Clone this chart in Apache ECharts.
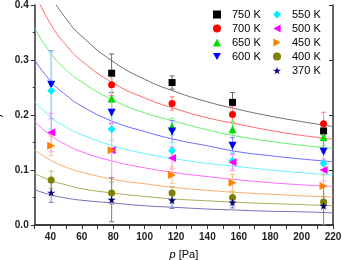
<!DOCTYPE html>
<html><head><meta charset="utf-8">
<script src="https://cdn.jsdelivr.net/npm/echarts@6/dist/echarts.min.js"></script>
<style>html,body{margin:0;padding:0;background:#fff}#c{width:342px;height:260px}</style>
</head><body><div id="c"></div>
<script>
const pressures = [40.5, 79, 117.5, 156, 214];
const temps = ['750 K','700 K','650 K','600 K','550 K','500 K','450 K','400 K','370 K'];
const gamma750 = [null, 0.276, 0.259, 0.223, 0.171];
const gamma700 = [null, 0.255, 0.221, 0.201, 0.184];
const gamma650 = [null, 0.230, 0.179, 0.174, 0.160];
const gamma600 = [0.255, 0.204, 0.170, 0.144, 0.133];
const gamma550 = [0.244, 0.174, 0.135, 0.117, 0.112];
const gamma500 = [0.168, 0.136, 0.122, 0.114, 0.100];
const gamma450 = [0.144, 0.136, 0.091, 0.077, 0.071];
const gamma400 = [0.082, 0.058, 0.058, 0.050, 0.042];
const gamma370 = [0.059, 0.046, 0.045, 0.041, 0.035];
const err750 = [null, 0.035, 0.012, 0.018, 0.015];
const err700 = [null, 0.020, 0.012, 0.015, 0.021];
const err650 = [null, 0.020, 0.015, 0.015, 0.015];
const err600 = [0.062, 0.020, 0.020, 0.015, 0.020];
const err550 = [0.070, 0.020, 0.015, 0.015, 0.020];
const err500 = [0.035, 0.050, 0.020, 0.015, 0.020];
const err450 = [0.018, 0.130, 0.015, 0.015, 0.020];
const err400 = [0.016, 0.020, 0.012, 0.010, 0.010];
const err370 = [0.018, 0.040, 0.015, 0.010, 0.035];
const fitP = [30, 40, 50, 60, 80, 100, 120, 140, 160, 180, 200, 220];
const fit750 = [0.484, 0.420, 0.375, 0.343, 0.297, 0.265, 0.242, 0.224, 0.210, 0.198, 0.188, 0.179];
const fit700 = [0.422, 0.366, 0.327, 0.298, 0.258, 0.231, 0.211, 0.195, 0.183, 0.172, 0.163, 0.156];
const fit650 = [0.358, 0.313, 0.282, 0.260, 0.227, 0.204, 0.188, 0.173, 0.161, 0.152, 0.145, 0.139];
const fit600 = [0.300, 0.262, 0.236, 0.216, 0.188, 0.170, 0.155, 0.144, 0.133, 0.126, 0.120, 0.115];
const fit550 = [0.224, 0.197, 0.178, 0.164, 0.144, 0.130, 0.120, 0.112, 0.106, 0.100, 0.095, 0.091];
const fit500 = [0.188, 0.163, 0.146, 0.133, 0.116, 0.104, 0.095, 0.088, 0.082, 0.077, 0.073, 0.070];
const fit450 = [0.136, 0.118, 0.105, 0.096, 0.083, 0.075, 0.068, 0.063, 0.059, 0.056, 0.053, 0.051];
const fit400 = [0.094, 0.081, 0.073, 0.066, 0.058, 0.052, 0.047, 0.044, 0.041, 0.039, 0.037, 0.035];
const fit370 = [0.064, 0.055, 0.049, 0.045, 0.040, 0.035, 0.032, 0.029, 0.027, 0.025, 0.024, 0.022];
const xTicks = [40, 60, 80, 100, 120, 140, 160, 180, 200, 220];

const gammas = [gamma750,gamma700,gamma650,gamma600,gamma550,gamma500,gamma450,gamma400,gamma370];
const errs = [err750,err700,err650,err600,err550,err500,err450,err400,err370];
const fits = [fit750,fit700,fit650,fit600,fit550,fit500,fit450,fit400,fit370];
const colors = ['#000000','#ff0000','#00dd00','#0000ff','#00eeff','#ff00ff','#ff7f00','#808000','#000080'];
const lineColors = ['#707070','#ff6a6a','#66ee66','#6a6aff','#66f2ff','#ff6aff','#ffaa66','#aaaa55','#7070b8'];
const errColors = ['#666666','#ff8080','#88ee88','#8888ff','#88f4ff','#ff88ff','#ffc080','#bbbb77','#8080c0'];
const star = 'path://M50,0 L61,35 L98,35 L68,57 L79,91 L50,70 L21,91 L32,57 L2,35 L39,35 Z';
const triDown = 'path://M0,0 L10,0 L5,9 Z';
const triLeft = 'path://M9,0 L9,10 L0,5 Z';
const triRight = 'path://M0,0 L0,10 L9,5 Z';
const symbols = ['rect','circle','triangle',triDown,'diamond',triLeft,triRight,'circle',star];
const sizes = [7,7,8,8,8,8,8,7,8];

const series = [];
fits.forEach((f,i)=>{
  series.push({type:'line', data: fitP.map((p,k)=>[p,f[k]]), smooth:true, symbol:'none',
    lineStyle:{color:lineColors[i], width:1}, silent:true, z:1, clip:true});
});
gammas.forEach((g,i)=>{
  const d = [];
  pressures.forEach((p,k)=>{ if(g[k]!=null) d.push([p, Math.max(0,g[k]-errs[i][k]), g[k]+errs[i][k]]); });
  series.push({type:'custom', data:d, z:2, silent:true, clip:true,
    renderItem:(params, api)=>{
      const lo = api.coord([api.value(0), api.value(1)]);
      const hi = api.coord([api.value(0), api.value(2)]);
      const w = 2.5;
      const st = {stroke: errColors[i], lineWidth: 1};
      return {type:'group', children:[
        {type:'line', shape:{x1:lo[0],y1:lo[1],x2:hi[0],y2:hi[1]}, style:st},
        {type:'line', shape:{x1:lo[0]-w,y1:lo[1],x2:lo[0]+w,y2:lo[1]}, style:st},
        {type:'line', shape:{x1:hi[0]-w,y1:hi[1],x2:hi[0]+w,y2:hi[1]}, style:st}
      ]};
    }});
});
gammas.forEach((g,i)=>{
  const d = [];
  pressures.forEach((p,k)=>{ if(g[k]!=null) d.push([p, g[k]]); });
  series.push({type:'scatter', name: temps[i], data:d, symbol:symbols[i],
    symbolSize:sizes[i], itemStyle:{color:colors[i], opacity:1}, z:3});
});

const font = 'Liberation Sans, Arial, sans-serif';
const legendBase = {orient:'vertical', itemWidth:8, itemHeight:8, itemGap:3,
  textStyle:{fontSize:11, fontFamily:font, color:'#000', padding:[0,0,0,6]}, padding:0, selectedMode:false};
const axisLineStyle = {color:'#333', width:1.5};

const chart = echarts.init(document.getElementById('c'), null, {renderer:'canvas'});
chart.setOption({
  animation:false,
  backgroundColor:'#fff',
  grid:{left:34.7, right:9, top:5, bottom:35, containLabel:false, outerBoundsMode:'none'},
  legend:[
    Object.assign({}, legendBase, {left:213, top:9, data:temps.slice(0,4).map((n,k)=>({name:n, icon:symbols[k]}))}),
    Object.assign({}, legendBase, {left:273, top:9, data:temps.slice(4).map((n,k)=>({name:n, icon:symbols[k+4]}))})
  ],
  xAxis:[{type:'value', min:30, max:220, interval:10, position:'bottom',
    axisLine:{show:true, lineStyle:axisLineStyle}, splitLine:{show:false},
    axisTick:{show:true, inside:false, length:4, lineStyle:{color:'#333', width:1}},
    axisLabel:{fontSize:10, fontWeight:'bold', color:'#222', fontFamily:font, margin:7,
      formatter:v=> xTicks.indexOf(v)>=0 ? String(v) : ''},
    name:'{i|p} [Pa]', nameLocation:'middle', nameGap:24,
    nameTextStyle:{fontSize:11, fontFamily:font, color:'#000', rich:{i:{fontStyle:'italic', fontSize:11, fontFamily:font}}}
  },{type:'value', min:30, max:220, interval:10, position:'top',
    axisLine:{show:true, lineStyle:axisLineStyle}, splitLine:{show:false},
    axisTick:{show:true, inside:true, length:4, lineStyle:{color:'#333', width:1}},
    axisLabel:{show:false}}],
  yAxis:[{type:'value', min:0, max:0.4, interval:0.1, position:'left',
    axisLine:{show:true, lineStyle:axisLineStyle}, splitLine:{show:false},
    axisTick:{show:true, inside:false, length:4, lineStyle:{color:'#333', width:1}},
    minorTick:{show:true, splitNumber:2, length:2, lineStyle:{color:'#333'}},
    axisLabel:{fontSize:10, fontWeight:'bold', color:'#222', fontFamily:font, margin:6, formatter:v=>v.toFixed(1)},
    name:'γ', nameLocation:'middle', nameGap:27, nameRotate:90,
    nameTextStyle:{fontSize:11, fontStyle:'italic', fontFamily:font, color:'#000'}
  },{type:'value', min:0, max:0.4, interval:0.1, position:'right',
    axisLine:{show:true, lineStyle:axisLineStyle}, splitLine:{show:false},
    axisTick:{show:true, inside:true, length:4, lineStyle:{color:'#333', width:1}},
    axisLabel:{show:false}}],
  series: series
});
</script></body></html>
